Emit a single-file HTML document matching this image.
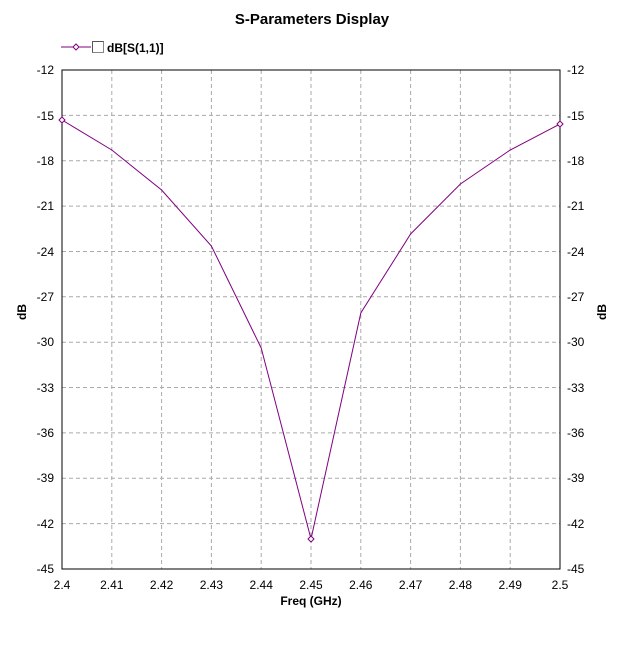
<!DOCTYPE html>
<html><head><meta charset="utf-8"><style>
body{margin:0;background:#fff;}
svg text{font-family:"Liberation Sans",Arial,sans-serif;font-size:12px;fill:#000;}
</style></head><body>
<svg width="637" height="646" xmlns="http://www.w3.org/2000/svg">
<rect width="637" height="646" fill="#fff"/>
<text x="312" y="24" text-anchor="middle" style="font-size:15px;font-weight:bold">S-Parameters Display</text>
<line x1="61" y1="47" x2="91" y2="47" stroke="#800080"/>
<path d="M73 47 L76 44 L79 47 L76 50 Z" fill="#fff" stroke="#800080"/>
<rect x="92.5" y="41.5" width="11" height="11" fill="#fff" stroke="#888"/>
<line x1="92.5" y1="41.5" x2="103.5" y2="41.5" stroke="#555"/><line x1="92.5" y1="41.5" x2="92.5" y2="52.5" stroke="#555"/>
<text x="107" y="52" style="font-weight:bold">dB[S(1,1)]</text>
<g stroke="#aaa" stroke-dasharray="4,3">
<line x1="62" y1="115.4" x2="560" y2="115.4"/><line x1="62" y1="160.7" x2="560" y2="160.7"/><line x1="62" y1="206.1" x2="560" y2="206.1"/><line x1="62" y1="251.5" x2="560" y2="251.5"/><line x1="62" y1="296.8" x2="560" y2="296.8"/><line x1="62" y1="342.2" x2="560" y2="342.2"/><line x1="62" y1="387.5" x2="560" y2="387.5"/><line x1="62" y1="432.9" x2="560" y2="432.9"/><line x1="62" y1="478.3" x2="560" y2="478.3"/><line x1="62" y1="523.6" x2="560" y2="523.6"/>
<line x1="111.8" y1="70" x2="111.8" y2="569"/><line x1="161.6" y1="70" x2="161.6" y2="569"/><line x1="211.4" y1="70" x2="211.4" y2="569"/><line x1="261.2" y1="70" x2="261.2" y2="569"/><line x1="311" y1="70" x2="311" y2="569"/><line x1="360.8" y1="70" x2="360.8" y2="569"/><line x1="410.6" y1="70" x2="410.6" y2="569"/><line x1="460.4" y1="70" x2="460.4" y2="569"/><line x1="510.2" y1="70" x2="510.2" y2="569"/>
</g>
<rect x="62" y="70" width="498" height="499" fill="none" stroke="#000"/>
<g text-anchor="end">
<text x="54" y="74">-12</text><text x="54" y="120">-15</text><text x="54" y="165">-18</text><text x="54" y="210">-21</text><text x="54" y="256">-24</text><text x="54" y="301">-27</text><text x="54" y="346">-30</text><text x="54" y="392">-33</text><text x="54" y="437">-36</text><text x="54" y="482">-39</text><text x="54" y="528">-42</text><text x="54" y="573">-45</text>
</g>
<g text-anchor="start">
<text x="567" y="74">-12</text><text x="567" y="120">-15</text><text x="567" y="165">-18</text><text x="567" y="210">-21</text><text x="567" y="256">-24</text><text x="567" y="301">-27</text><text x="567" y="346">-30</text><text x="567" y="392">-33</text><text x="567" y="437">-36</text><text x="567" y="482">-39</text><text x="567" y="528">-42</text><text x="567" y="573">-45</text>
</g>
<g text-anchor="middle">
<text x="62" y="589">2.4</text><text x="111.8" y="589">2.41</text><text x="161.6" y="589">2.42</text><text x="211.4" y="589">2.43</text><text x="261.2" y="589">2.44</text><text x="311" y="589">2.45</text><text x="360.8" y="589">2.46</text><text x="410.6" y="589">2.47</text><text x="460.4" y="589">2.48</text><text x="510.2" y="589">2.49</text><text x="560" y="589">2.5</text>
<text x="311" y="605" style="font-weight:bold">Freq (GHz)</text>
</g>
<text transform="translate(26,312) rotate(-90)" text-anchor="middle" style="font-weight:bold">dB</text>
<text transform="translate(606,312) rotate(-90)" text-anchor="middle" style="font-weight:bold">dB</text>
<polyline fill="none" stroke="#800080" points="62,120 111.8,150 161.6,190 211.4,246 261.2,348 311,539 360.8,313 410.6,234 460.4,184 510.2,150 560,124"/>
<g fill="#fff" stroke="#800080">
<path d="M62 117 L65 120 L62 123 L59 120 Z"/><path d="M311 536 L314 539 L311 542 L308 539 Z"/><path d="M560 121 L563 124 L560 127 L557 124 Z"/>
</g>
</svg>
</body></html>
